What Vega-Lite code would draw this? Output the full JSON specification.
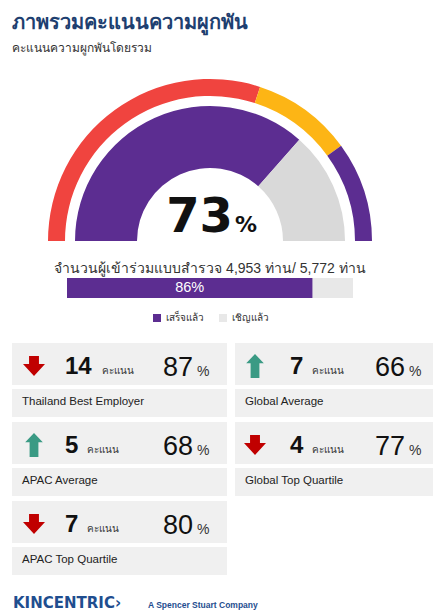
{
  "$schema": "https://vega.github.io/schema/vega-lite/v6.json",
  "background": "white",
  "padding": {"left": 12, "top": 13, "right": 0, "bottom": 0},
  "title": {
    "text": "ภาพรวมคะแนนความผูกพัน",
    "subtitle": "คะแนนความผูกพันโดยรวม",
    "anchor": "start",
    "frame": "group",
    "fontSize": 20,
    "fontWeight": 600,
    "color": "#1e3f70",
    "subtitleFontSize": 12,
    "subtitleColor": "#333333",
    "subtitlePadding": 10,
    "offset": 23
  },
  "datasets": {
    "cards": [
      {"benchmark": "Thailand Best Employer", "diff": 14, "change": "down", "score": 87},
      {"benchmark": "Global Average", "diff": 7, "change": "up", "score": 66},
      {"benchmark": "APAC Average", "diff": 5, "change": "up", "score": 68},
      {"benchmark": "Global Top Quartile", "diff": 4, "change": "down", "score": 77},
      {"benchmark": "APAC Top Quartile", "diff": 7, "change": "down", "score": 80}
    ]
  },
  "config": {
    "view": {"stroke": null},
    "legend": {"layout": {"bottom": {"anchor": "middle"}}}
  },
  "resolve": {"scale": {"color": "independent", "shape": "independent"}},
  "spacing": 20,
  "vconcat": [
    {
      "spacing": 37,
      "bounds": "flush",
      "center": true,
      "resolve": {"scale": {"color": "independent"}},
      "vconcat": [
        {
          "width": 396,
          "height": 164,
          "data": {"values": [{"score": 73}]},
          "layer": [
            {
              "data": {"values": [
                {"band": "0–60", "start": 0, "end": 60},
                {"band": "60–80", "start": 60, "end": 80},
                {"band": "80–100", "start": 80, "end": 100}
              ]},
              "mark": {"type": "arc", "radius": 162, "radius2": 145},
              "encoding": {
                "theta": {"field": "start", "type": "quantitative", "scale": {"domain": [0, 100], "range": [-1.5708, 1.5708]}},
                "theta2": {"field": "end"},
                "x": {"datum": 0.5, "type": "quantitative", "scale": {"domain": [0, 1]}, "axis": null},
                "y": {"datum": 0, "type": "quantitative", "scale": {"domain": [0, 1]}, "axis": null},
                "color": {"field": "band", "type": "nominal", "scale": {"domain": ["0–60", "60–80", "80–100", "คะแนน", "ส่วนที่เหลือ"], "range": ["#f0443f", "#fdb515", "#5c2d91", "#5c2d91", "#d9d9d9"]}, "legend": null}
              }
            },
            {
              "data": {"values": [
                {"band": "คะแนน", "start": 0, "end": 73},
                {"band": "ส่วนที่เหลือ", "start": 73, "end": 100}
              ]},
              "mark": {"type": "arc", "radius": 135, "radius2": 73},
              "encoding": {
                "theta": {"field": "start", "type": "quantitative", "scale": {"domain": [0, 100], "range": [-1.5708, 1.5708]}},
                "theta2": {"field": "end"},
                "x": {"datum": 0.5, "type": "quantitative", "scale": {"domain": [0, 1]}, "axis": null},
                "y": {"datum": 0, "type": "quantitative", "scale": {"domain": [0, 1]}, "axis": null},
                "color": {"field": "band", "type": "nominal", "scale": {"domain": ["0–60", "60–80", "80–100", "คะแนน", "ส่วนที่เหลือ"], "range": ["#f0443f", "#fdb515", "#5c2d91", "#5c2d91", "#d9d9d9"]}, "legend": null}
              }
            },
            {
              "mark": {"type": "text", "align": "right", "baseline": "alphabetic", "dx": 23, "dy": -9, "font": "DejaVu Sans", "fontSize": 48, "fontWeight": "bold", "color": "#111111"},
              "encoding": {
                "x": {"datum": 0.5, "type": "quantitative", "scale": {"domain": [0, 1]}, "axis": null},
                "y": {"datum": 0, "type": "quantitative", "scale": {"domain": [0, 1]}, "axis": null},
                "text": {"field": "score", "type": "quantitative"}
              }
            },
            {
              "mark": {"type": "text", "align": "left", "baseline": "alphabetic", "dx": 25, "dy": -9, "font": "DejaVu Sans", "fontSize": 22, "fontWeight": "bold", "color": "#111111"},
              "encoding": {
                "x": {"datum": 0.5, "type": "quantitative", "scale": {"domain": [0, 1]}, "axis": null},
                "y": {"datum": 0, "type": "quantitative", "scale": {"domain": [0, 1]}, "axis": null},
                "text": {"value": "%"}
              }
            }
          ]
        },
        {
          "width": 286,
          "height": 20,
          "title": {"text": "จำนวนผู้เข้าร่วมแบบสำรวจ 4,953 ท่าน/ 5,772 ท่าน", "fontSize": 14, "fontWeight": "normal", "color": "#333333", "offset": 2, "anchor": "middle"},
          "data": {"values": [
            {"status": "เชิญแล้ว", "count": 5772},
            {"status": "เสร็จแล้ว", "count": 4953}
          ]},
          "layer": [
            {
              "mark": {"type": "bar"},
              "encoding": {
                "x": {"field": "count", "type": "quantitative", "stack": null, "scale": {"domain": [0, 5772], "nice": false}, "axis": null},
                "x2": {"datum": 0},
                "y": {"datum": 0, "type": "quantitative", "scale": {"domain": [0, 1]}, "axis": null},
                "y2": {"datum": 1},
                "color": {"field": "status", "type": "nominal", "scale": {"domain": ["เสร็จแล้ว", "เชิญแล้ว"], "range": ["#5c2d91", "#e8e8e8"]},
                  "legend": {"orient": "bottom", "title": null, "symbolType": "square", "symbolSize": 64, "symbolStrokeWidth": 0, "labelFontSize": 10, "labelColor": "#333333", "offset": 15, "columnPadding": 14}}
              }
            },
            {
              "transform": [
                {"joinaggregate": [{"op": "max", "field": "count", "as": "invited"}]},
                {"filter": "datum.status === 'เสร็จแล้ว'"},
                {"calculate": "datum.count / 2", "as": "mid"},
                {"calculate": "format(datum.count / datum.invited, '.0%')", "as": "label"}
              ],
              "mark": {"type": "text", "color": "white", "fontSize": 14.5, "baseline": "middle"},
              "encoding": {
                "x": {"field": "mid", "type": "quantitative"},
                "y": {"datum": 0.5, "type": "quantitative"},
                "text": {"field": "label", "type": "nominal"}
              }
            }
          ]
        }
      ]
    },
    {
      "spacing": 21,
      "vconcat": [
        {
          "spacing": 8,
          "hconcat": [
            {
              "spacing": 5,
              "vconcat": [
                {
                  "spacing": 4, "bounds": "flush",
                  "vconcat": [
                    {
                      "width": 215, "height": 42, "view": {"fill": "#f0f0f0", "stroke": null},
                      "data": {"name": "cards"},
                      "transform": [{"filter": "datum.benchmark === 'Thailand Best Employer'"}],
                      "layer": [
                        {"mark": {"type": "point", "filled": true, "opacity": 1, "size": 484, "x": 22, "y": 23},
                         "encoding": {"shape": {"field": "change", "type": "nominal", "scale": {"domain": ["down", "up"], "range": ["M-0.45,-0.91L0.45,-0.91L0.45,-0.18L1,-0.18L0,0.91L-1,-0.18L-0.45,-0.18Z", "M-0.4,1.1L0.4,1.1L0.4,-0.25L0.8,-0.25L0,-1.1L-0.8,-0.25L-0.4,-0.25Z"]}, "legend": null},
                                      "color": {"field": "change", "type": "nominal", "scale": {"domain": ["down", "up"], "range": ["#c00000", "#3a9a84"]}, "legend": null}}},
                        {"mark": {"type": "text", "x": 53, "y": 31, "align": "left", "baseline": "alphabetic", "font": "Liberation Sans", "fontSize": 24, "fontWeight": "bold", "color": "#111111"},
                         "encoding": {"text": {"field": "diff", "type": "quantitative"}}},
                        {"mark": {"type": "text", "x": 90, "y": 31, "align": "left", "baseline": "alphabetic", "fontSize": 10, "color": "#333333"},
                         "encoding": {"text": {"value": "คะแนน"}}},
                        {"mark": {"type": "text", "x": 151, "y": 33, "align": "left", "baseline": "alphabetic", "font": "Liberation Sans", "fontSize": 27, "color": "#111111"},
                         "encoding": {"text": {"field": "score", "type": "quantitative"}}},
                        {"mark": {"type": "text", "x": 185, "y": 33, "align": "left", "baseline": "alphabetic", "font": "Liberation Sans", "fontSize": 14, "color": "#333333"},
                         "encoding": {"text": {"value": "%"}}}
                      ]
                    },
                    {
                      "width": 215, "height": 28, "view": {"fill": "#f0f0f0", "stroke": null},
                      "data": {"name": "cards"},
                      "transform": [{"filter": "datum.benchmark === 'Thailand Best Employer'"}],
                      "mark": {"type": "text", "x": 10, "y": 13, "align": "left", "baseline": "middle", "font": "Liberation Sans", "fontSize": 11.5, "color": "#222222"},
                      "encoding": {"text": {"field": "benchmark", "type": "nominal"}}
                    }
                  ]
                },
                {
                  "spacing": 4, "bounds": "flush",
                  "vconcat": [
                    {
                      "width": 215, "height": 42, "view": {"fill": "#f0f0f0", "stroke": null},
                      "data": {"name": "cards"},
                      "transform": [{"filter": "datum.benchmark === 'APAC Average'"}],
                      "layer": [
                        {"mark": {"type": "point", "filled": true, "opacity": 1, "size": 484, "x": 22, "y": 23},
                         "encoding": {"shape": {"field": "change", "type": "nominal", "scale": {"domain": ["down", "up"], "range": ["M-0.45,-0.91L0.45,-0.91L0.45,-0.18L1,-0.18L0,0.91L-1,-0.18L-0.45,-0.18Z", "M-0.4,1.1L0.4,1.1L0.4,-0.25L0.8,-0.25L0,-1.1L-0.8,-0.25L-0.4,-0.25Z"]}, "legend": null},
                                      "color": {"field": "change", "type": "nominal", "scale": {"domain": ["down", "up"], "range": ["#c00000", "#3a9a84"]}, "legend": null}}},
                        {"mark": {"type": "text", "x": 53, "y": 31, "align": "left", "baseline": "alphabetic", "font": "Liberation Sans", "fontSize": 24, "fontWeight": "bold", "color": "#111111"},
                         "encoding": {"text": {"field": "diff", "type": "quantitative"}}},
                        {"mark": {"type": "text", "x": 75, "y": 31, "align": "left", "baseline": "alphabetic", "fontSize": 10, "color": "#333333"},
                         "encoding": {"text": {"value": "คะแนน"}}},
                        {"mark": {"type": "text", "x": 151, "y": 33, "align": "left", "baseline": "alphabetic", "font": "Liberation Sans", "fontSize": 27, "color": "#111111"},
                         "encoding": {"text": {"field": "score", "type": "quantitative"}}},
                        {"mark": {"type": "text", "x": 185, "y": 33, "align": "left", "baseline": "alphabetic", "font": "Liberation Sans", "fontSize": 14, "color": "#333333"},
                         "encoding": {"text": {"value": "%"}}}
                      ]
                    },
                    {
                      "width": 215, "height": 28, "view": {"fill": "#f0f0f0", "stroke": null},
                      "data": {"name": "cards"},
                      "transform": [{"filter": "datum.benchmark === 'APAC Average'"}],
                      "mark": {"type": "text", "x": 10, "y": 13, "align": "left", "baseline": "middle", "font": "Liberation Sans", "fontSize": 11.5, "color": "#222222"},
                      "encoding": {"text": {"field": "benchmark", "type": "nominal"}}
                    }
                  ]
                },
                {
                  "spacing": 4, "bounds": "flush",
                  "vconcat": [
                    {
                      "width": 215, "height": 42, "view": {"fill": "#f0f0f0", "stroke": null},
                      "data": {"name": "cards"},
                      "transform": [{"filter": "datum.benchmark === 'APAC Top Quartile'"}],
                      "layer": [
                        {"mark": {"type": "point", "filled": true, "opacity": 1, "size": 484, "x": 22, "y": 23},
                         "encoding": {"shape": {"field": "change", "type": "nominal", "scale": {"domain": ["down", "up"], "range": ["M-0.45,-0.91L0.45,-0.91L0.45,-0.18L1,-0.18L0,0.91L-1,-0.18L-0.45,-0.18Z", "M-0.4,1.1L0.4,1.1L0.4,-0.25L0.8,-0.25L0,-1.1L-0.8,-0.25L-0.4,-0.25Z"]}, "legend": null},
                                      "color": {"field": "change", "type": "nominal", "scale": {"domain": ["down", "up"], "range": ["#c00000", "#3a9a84"]}, "legend": null}}},
                        {"mark": {"type": "text", "x": 53, "y": 31, "align": "left", "baseline": "alphabetic", "font": "Liberation Sans", "fontSize": 24, "fontWeight": "bold", "color": "#111111"},
                         "encoding": {"text": {"field": "diff", "type": "quantitative"}}},
                        {"mark": {"type": "text", "x": 75, "y": 31, "align": "left", "baseline": "alphabetic", "fontSize": 10, "color": "#333333"},
                         "encoding": {"text": {"value": "คะแนน"}}},
                        {"mark": {"type": "text", "x": 151, "y": 33, "align": "left", "baseline": "alphabetic", "font": "Liberation Sans", "fontSize": 27, "color": "#111111"},
                         "encoding": {"text": {"field": "score", "type": "quantitative"}}},
                        {"mark": {"type": "text", "x": 185, "y": 33, "align": "left", "baseline": "alphabetic", "font": "Liberation Sans", "fontSize": 14, "color": "#333333"},
                         "encoding": {"text": {"value": "%"}}}
                      ]
                    },
                    {
                      "width": 215, "height": 28, "view": {"fill": "#f0f0f0", "stroke": null},
                      "data": {"name": "cards"},
                      "transform": [{"filter": "datum.benchmark === 'APAC Top Quartile'"}],
                      "mark": {"type": "text", "x": 10, "y": 13, "align": "left", "baseline": "middle", "font": "Liberation Sans", "fontSize": 11.5, "color": "#222222"},
                      "encoding": {"text": {"field": "benchmark", "type": "nominal"}}
                    }
                  ]
                }
              ]
            },
            {
              "spacing": 5,
              "vconcat": [
                {
                  "spacing": 4, "bounds": "flush",
                  "vconcat": [
                    {
                      "width": 198, "height": 42, "view": {"fill": "#f0f0f0", "stroke": null},
                      "data": {"name": "cards"},
                      "transform": [{"filter": "datum.benchmark === 'Global Average'"}],
                      "layer": [
                        {"mark": {"type": "point", "filled": true, "opacity": 1, "size": 484, "x": 20, "y": 23},
                         "encoding": {"shape": {"field": "change", "type": "nominal", "scale": {"domain": ["down", "up"], "range": ["M-0.45,-0.91L0.45,-0.91L0.45,-0.18L1,-0.18L0,0.91L-1,-0.18L-0.45,-0.18Z", "M-0.4,1.1L0.4,1.1L0.4,-0.25L0.8,-0.25L0,-1.1L-0.8,-0.25L-0.4,-0.25Z"]}, "legend": null},
                                      "color": {"field": "change", "type": "nominal", "scale": {"domain": ["down", "up"], "range": ["#c00000", "#3a9a84"]}, "legend": null}}},
                        {"mark": {"type": "text", "x": 55, "y": 31, "align": "left", "baseline": "alphabetic", "font": "Liberation Sans", "fontSize": 24, "fontWeight": "bold", "color": "#111111"},
                         "encoding": {"text": {"field": "diff", "type": "quantitative"}}},
                        {"mark": {"type": "text", "x": 77, "y": 31, "align": "left", "baseline": "alphabetic", "fontSize": 10, "color": "#333333"},
                         "encoding": {"text": {"value": "คะแนน"}}},
                        {"mark": {"type": "text", "x": 140, "y": 33, "align": "left", "baseline": "alphabetic", "font": "Liberation Sans", "fontSize": 27, "color": "#111111"},
                         "encoding": {"text": {"field": "score", "type": "quantitative"}}},
                        {"mark": {"type": "text", "x": 174, "y": 33, "align": "left", "baseline": "alphabetic", "font": "Liberation Sans", "fontSize": 14, "color": "#333333"},
                         "encoding": {"text": {"value": "%"}}}
                      ]
                    },
                    {
                      "width": 198, "height": 28, "view": {"fill": "#f0f0f0", "stroke": null},
                      "data": {"name": "cards"},
                      "transform": [{"filter": "datum.benchmark === 'Global Average'"}],
                      "mark": {"type": "text", "x": 10, "y": 13, "align": "left", "baseline": "middle", "font": "Liberation Sans", "fontSize": 11.5, "color": "#222222"},
                      "encoding": {"text": {"field": "benchmark", "type": "nominal"}}
                    }
                  ]
                },
                {
                  "spacing": 4, "bounds": "flush",
                  "vconcat": [
                    {
                      "width": 198, "height": 42, "view": {"fill": "#f0f0f0", "stroke": null},
                      "data": {"name": "cards"},
                      "transform": [{"filter": "datum.benchmark === 'Global Top Quartile'"}],
                      "layer": [
                        {"mark": {"type": "point", "filled": true, "opacity": 1, "size": 484, "x": 20, "y": 23},
                         "encoding": {"shape": {"field": "change", "type": "nominal", "scale": {"domain": ["down", "up"], "range": ["M-0.45,-0.91L0.45,-0.91L0.45,-0.18L1,-0.18L0,0.91L-1,-0.18L-0.45,-0.18Z", "M-0.4,1.1L0.4,1.1L0.4,-0.25L0.8,-0.25L0,-1.1L-0.8,-0.25L-0.4,-0.25Z"]}, "legend": null},
                                      "color": {"field": "change", "type": "nominal", "scale": {"domain": ["down", "up"], "range": ["#c00000", "#3a9a84"]}, "legend": null}}},
                        {"mark": {"type": "text", "x": 55, "y": 31, "align": "left", "baseline": "alphabetic", "font": "Liberation Sans", "fontSize": 24, "fontWeight": "bold", "color": "#111111"},
                         "encoding": {"text": {"field": "diff", "type": "quantitative"}}},
                        {"mark": {"type": "text", "x": 77, "y": 31, "align": "left", "baseline": "alphabetic", "fontSize": 10, "color": "#333333"},
                         "encoding": {"text": {"value": "คะแนน"}}},
                        {"mark": {"type": "text", "x": 140, "y": 33, "align": "left", "baseline": "alphabetic", "font": "Liberation Sans", "fontSize": 27, "color": "#111111"},
                         "encoding": {"text": {"field": "score", "type": "quantitative"}}},
                        {"mark": {"type": "text", "x": 174, "y": 33, "align": "left", "baseline": "alphabetic", "font": "Liberation Sans", "fontSize": 14, "color": "#333333"},
                         "encoding": {"text": {"value": "%"}}}
                      ]
                    },
                    {
                      "width": 198, "height": 28, "view": {"fill": "#f0f0f0", "stroke": null},
                      "data": {"name": "cards"},
                      "transform": [{"filter": "datum.benchmark === 'Global Top Quartile'"}],
                      "mark": {"type": "text", "x": 10, "y": 13, "align": "left", "baseline": "middle", "font": "Liberation Sans", "fontSize": 11.5, "color": "#222222"},
                      "encoding": {"text": {"field": "benchmark", "type": "nominal"}}
                    }
                  ]
                }
              ]
            }
          ]
        },
        {
          "width": 396,
          "height": 14,
          "data": {"values": [{"brand": "KINCENTRIC›", "tagline": "A Spencer Stuart Company"}]},
          "layer": [
            {"mark": {"type": "text", "x": 1, "y": {"expr": "height"}, "align": "left", "baseline": "alphabetic", "font": "DejaVu Sans", "fontSize": 15, "fontWeight": "bold", "color": "#1f4e8f"},
             "encoding": {"text": {"field": "brand", "type": "nominal"}}},
            {"mark": {"type": "text", "x": 136, "y": {"expr": "height"}, "align": "left", "baseline": "alphabetic", "font": "Liberation Sans", "fontSize": 8.5, "fontWeight": "bold", "color": "#1f4e8f"},
             "encoding": {"text": {"field": "tagline", "type": "nominal"}}}
          ]
        }
      ]
    }
  ]
}
